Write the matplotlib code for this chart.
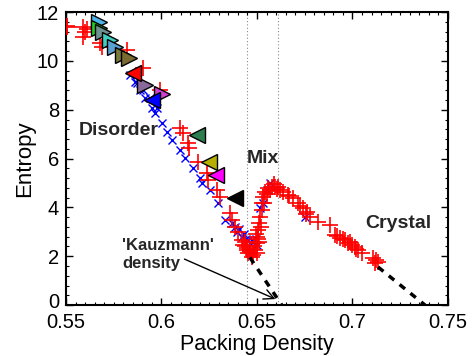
import matplotlib
matplotlib.use("Agg")
import matplotlib.pyplot as plt
from matplotlib.ticker import MultipleLocator
from matplotlib.transforms import ScaledTranslation

plt.rcParams['font.family'] = ['Liberation Sans', 'DejaVu Sans']

# Red "+" points (packing density, entropy)
red_x = [0.5503, 0.5505, 0.559, 0.560, 0.559, 0.561, 0.5678, 0.5687, 0.5818, 0.5903, 0.5992,
         0.6097, 0.6114, 0.614, 0.6146, 0.6193, 0.6236, 0.6245, 0.6292, 0.6306,
         0.6359, 0.6368, 0.6385, 0.6402, 0.642, 0.6428, 0.6446, 0.6455, 0.6472, 0.6440, 0.6462,
         0.649, 0.6499, 0.6502, 0.6507, 0.6512, 0.6516, 0.6525, 0.6525, 0.6533, 0.6542, 0.656,
         0.6577, 0.6594, 0.662, 0.6505, 0.6495,
         0.6435, 0.6450, 0.6465, 0.6480, 0.6485, 0.6500, 0.6510, 0.6520, 0.6538, 0.6550,
         0.6570, 0.6590, 0.6605,
         0.6612, 0.6638, 0.6664, 0.669, 0.6716, 0.6743, 0.676, 0.6778, 0.6821, 0.6882,
         0.6908, 0.6935, 0.6961, 0.6987, 0.7013, 0.7031, 0.7048, 0.7109, 0.7135,
         0.6670, 0.6725, 0.6755, 0.6920, 0.6950, 0.6975, 0.7000, 0.7020, 0.7125, 0.7120]
red_y = [11.45, 11.40, 11.40, 11.20, 11.00, 11.30, 10.74, 10.59, 10.45, 9.71, 8.81,
         7.24, 7.03, 6.62, 6.42, 5.88, 5.40, 5.12, 4.71, 4.44,
         3.77, 3.48, 3.21, 3.00, 2.66, 2.46, 2.25, 2.12, 1.98, 2.40, 2.30,
         2.25, 2.53, 2.80, 3.07, 3.35, 3.62, 3.89, 4.17, 4.44, 4.64, 4.78,
         4.85, 4.85, 4.71, 2.70, 2.90,
         2.60, 2.35, 2.20, 2.05, 2.40, 2.15, 2.60, 3.20, 4.20, 4.55,
         4.70, 4.95, 4.75,
         4.85, 4.64, 4.51, 4.37, 4.17, 3.96, 3.82, 3.62, 3.41, 3.28,
         2.87, 2.73, 2.66, 2.59, 2.39, 2.25, 2.12, 1.91, 1.78,
         4.45, 4.05, 3.75, 2.85, 2.70, 2.55, 2.45, 2.30, 1.85, 1.72]

# Blue "x" points
blue_x = [0.5835, 0.5861, 0.587, 0.5887, 0.5905, 0.5914, 0.594, 0.5949, 0.5966, 0.5975,
          0.6001, 0.6027, 0.6053, 0.6097, 0.6123, 0.6167, 0.6202, 0.621, 0.6254, 0.6297,
          0.6332, 0.6368, 0.6394, 0.642, 0.6455, 0.6481, 0.6568, 0.6516, 0.6751, 0.6500,
          0.6405, 0.6430, 0.6445, 0.6475, 0.6385, 0.6495, 0.6530, 0.6550]
blue_y = [9.43, 9.15, 9.08, 8.81, 8.81, 8.47, 8.47, 8.06, 7.86, 8.06,
          7.45, 7.10, 6.76, 6.35, 6.01, 5.60, 5.19, 4.99, 4.71, 4.17,
          3.48, 3.35, 3.00, 2.80, 2.66, 2.59, 4.99, 3.96, 3.62, 2.45,
          3.10, 2.90, 2.70, 2.65, 3.20, 2.70, 4.20, 4.70]

# Right-pointing triangles
tri_r_x = [0.5674, 0.5674, 0.5695, 0.5730, 0.5757, 0.5797, 0.5831, 0.5914, 0.6001]
tri_r_y = [11.61, 11.34, 11.18, 10.86, 10.59, 10.25, 10.11, 9.02, 8.63]
tri_r_c = ['#4cb3e6', '#22cc22', '#6f9090', '#3fcfc0', '#5aa0d0', '#7a7a3a', '#786a30', '#8a6a9a', '#d040d0']

# Left-pointing triangles
tri_l_x = [0.5849, 0.5949, 0.6184, 0.6250, 0.6285, 0.6385]
tri_l_y = [9.50, 8.40, 6.97, 5.87, 5.33, 4.37]
tri_l_c = ['#ff0000', '#0000ff', '#2e7d4f', '#b5b000', '#ff00ff', '#000000']

# Extrapolation lines
kauz_x = [0.6463, 0.663]
kauz_y = [1.95, 0.0]
cryst_x = [0.7134, 0.738]
cryst_y = [1.56, 0.0]
mix_bounds = [0.6447, 0.6611]

fig = plt.figure(figsize=(4.73, 3.56), dpi=100)
ax = fig.add_axes([0.1395, 0.143, 0.8075, 0.823])

for xv in mix_bounds:
    ax.plot([xv, xv], [0, 12], ls=(0, (1, 2)), color='#888888', lw=0.8, zorder=1)

ax.plot(blue_x, blue_y, 'x', color='blue', ms=6, mew=1.0, zorder=2)
ax.plot(red_x, red_y, '+', color='red', ms=11, mew=1.2, zorder=3)

for x, y, c in zip(tri_r_x, tri_r_y, tri_r_c):
    ax.plot(x, y, '>', color=c, mec='black', mew=1.0, ms=11, zorder=4)
for x, y, c in zip(tri_l_x, tri_l_y, tri_l_c):
    ax.plot(x, y, '<', color=c, mec='black', mew=1.0, ms=11, zorder=4)

ax.plot(kauz_x, kauz_y, color='black', lw=2.5, ls=(0, (2, 2)), zorder=5)
ax.plot(cryst_x, cryst_y, color='black', lw=2.5, ls=(0, (2, 2)), zorder=5)

txtc = '#262626'
ax.text(0.5565, 7.15, 'Disorder', fontsize=14, fontweight='bold', color=txtc, va='center')
ax.text(0.6530, 6.0, 'Mix', fontsize=14, fontweight='bold', color=txtc, va='center', ha='center')
ax.text(0.7240, 3.36, 'Crystal', fontsize=14, fontweight='bold', color=txtc, va='center', ha='center')
ax.text(0.5793, 2.46, "'Kauzmann'", fontsize=12, fontweight='bold', color=txtc, va='center')
ax.text(0.5793, 1.72, 'density', fontsize=12, fontweight='bold', color=txtc, va='center')
ax.annotate('', xy=(0.6610, 0.2), xytext=(0.6107, 1.93),
            arrowprops=dict(arrowstyle='->', color='black', lw=1.0, mutation_scale=18))

ax.set_xlim(0.55, 0.75)
ax.set_ylim(0, 12)
ax.set_xticks([0.55, 0.6, 0.65, 0.7, 0.75])
ax.set_xticklabels(['0.55', '0.6', '0.65', '0.7', '0.75'])
ax.set_yticks([0, 2, 4, 6, 8, 10, 12])
ax.xaxis.set_minor_locator(MultipleLocator(0.005))
ax.yaxis.set_minor_locator(MultipleLocator(0.4))
ax.tick_params(which='both', direction='in', top=True, right=True, labelsize=14.5)
ax.tick_params(axis='x', which='major', pad=6)
ax.tick_params(axis='y', which='major', pad=5)
ax.tick_params(which='major', length=5, width=1.0)
ax.tick_params(which='minor', length=2.5, width=0.8)
for s in ax.spines.values():
    s.set_linewidth(1.5)
ax.set_xlabel('Packing Density', fontsize=15.5, labelpad=1)
ax.set_ylabel('Entropy', fontsize=16, labelpad=1)

# nudge the "0" y tick label up slightly so it does not collide with "0.55"
zero_lbl = ax.get_yticklabels()[0]
zero_lbl.set_transform(zero_lbl.get_transform() + ScaledTranslation(0, 3 / 72, fig.dpi_scale_trans))

fig.savefig('out.png', dpi=100)
